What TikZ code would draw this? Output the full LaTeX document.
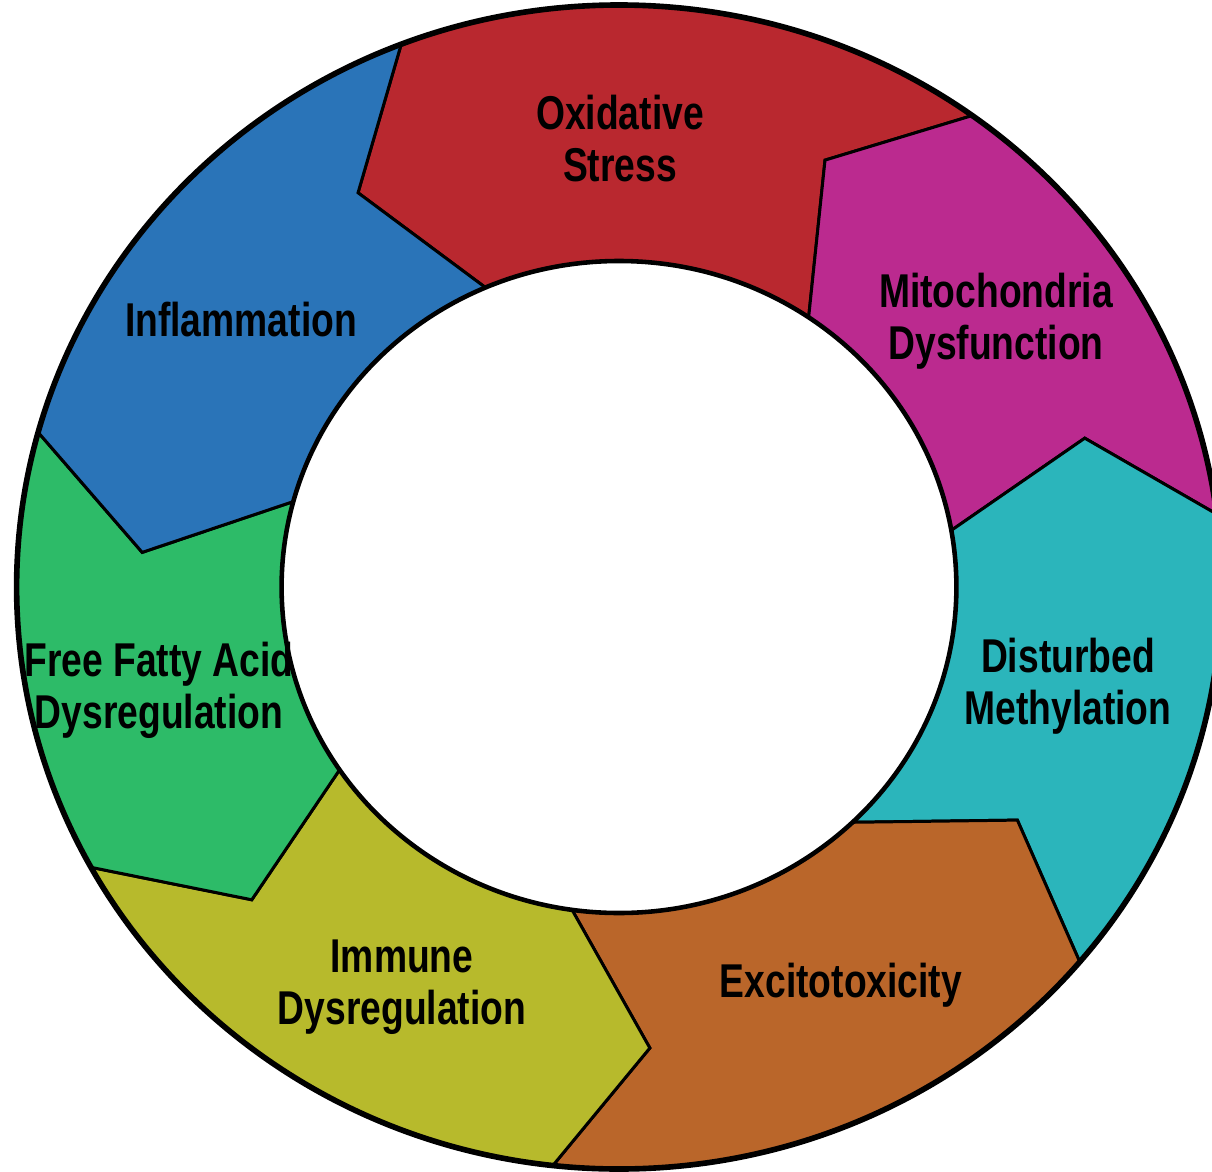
\documentclass[tikz,border=0pt]{standalone}
\usepackage{fontspec}
\setmainfont[FakeStretch=0.785]{Liberation Sans}
\usepackage{xcolor}
\usepackage{tikz}
\usetikzlibrary{positioning}

\definecolor{oxred}{RGB}{185,40,47}
\definecolor{mitomag}{RGB}{187,42,143}
\definecolor{methteal}{RGB}{43,181,187}
\definecolor{excorange}{RGB}{186,102,42}
\definecolor{immolive}{RGB}{183,186,44}
\definecolor{ffagreen}{RGB}{45,187,104}
\definecolor{inflblue}{RGB}{42,116,184}

\begin{document}
\begin{tikzpicture}[
		seg/.style={draw=black, line width=0.85pt, line join=miter},
		lbl/.style={font=\fontsize{13.5}{14.8}\selectfont\bfseries, align=center}
	]
		\clip (-6.19,-5.84) rectangle (5.93,5.87);

		\begin{scope}[xscale=1.035]
		% oxidative stress
		\filldraw[seg, fill=oxred] (111.2:5.82) arc[start angle=111.2, end angle=54.1, radius=5.82]
			-- (65.0:4.71) -- (55.8:3.26) arc[start angle=55.8, end angle=113.3, radius=3.26]
			-- (122.6:4.68) -- cycle;
		% mitochondria
		\filldraw[seg, fill=mitomag] (54.1:5.82) arc[start angle=54.1, end angle=7.2, radius=5.82]
			-- (18.3:4.74) -- (10.0:3.26) arc[start angle=10.0, end angle=55.8, radius=3.26]
			-- (65.0:4.71) -- cycle;
		% methylation
		\filldraw[seg, fill=methteal] (7.2:5.82) arc[start angle=7.2, end angle=-40.1, radius=5.82]
			-- (-31.2:4.50) -- (-46.2:3.26) arc[start angle=-46.2, end angle=10.0, radius=3.26]
			-- (18.3:4.74) -- cycle;
		% excitotoxicity
		\filldraw[seg, fill=excorange] (-40.1:5.82) arc[start angle=-40.1, end angle=-96.3, radius=5.82]
			-- (-86.3:4.62) -- (-98.0:3.26) arc[start angle=-98.0, end angle=-46.2, radius=3.26]
			-- (-31.2:4.50) -- cycle;
		% immune
		\filldraw[seg, fill=immolive] (-96.3:5.82) arc[start angle=-96.3, end angle=-151.2, radius=5.82]
			-- (-138.6:4.73) -- (-145.9:3.26) arc[start angle=-145.9, end angle=-98.0, radius=3.26]
			-- (-86.3:4.62) -- cycle;
		% free fatty acid
		\filldraw[seg, fill=ffagreen] (-151.2:5.82) arc[start angle=-151.2, end angle=-195.4, radius=5.82]
			-- (-184.3:4.62) -- (-195.2:3.26) arc[start angle=-195.2, end angle=-145.9, radius=3.26]
			-- (-138.6:4.73) -- cycle;
		% inflammation
		\filldraw[seg, fill=inflblue] (-195.4:5.82) arc[start angle=-195.4, end angle=-248.8, radius=5.82]
			-- (-237.4:4.68) -- (-246.7:3.26) arc[start angle=-246.7, end angle=-195.2, radius=3.26]
			-- (-184.3:4.62) -- cycle;

		\draw[line width=1.6pt] (0,0) circle (5.82);
		\draw[line width=1.3pt, fill=white] (0,0) circle (3.26);
		\end{scope}

		\node[lbl] (oxid) at (0.01,4.48) {Oxidative\\Stress};
		\node[lbl] (mito) at (3.77,2.66) {Mitochondria\\Dysfunction};
		\node[lbl] (meth) at (4.49,-0.99) {Disturbed\\Methylation};
		\node[lbl] (exci) at (2.22,-3.98) {Excitotoxicity};
		\node[lbl] (immu) at (-2.17,-4.00) {Immune\\Dysregulation};
		\node[lbl] (ffa) at (-4.60,-1.03) {Free Fatty Acid\\Dysregulation};
		\node[lbl] (infl) at (-3.78,2.67) {Inflammation};
	\end{tikzpicture}
\end{document}
